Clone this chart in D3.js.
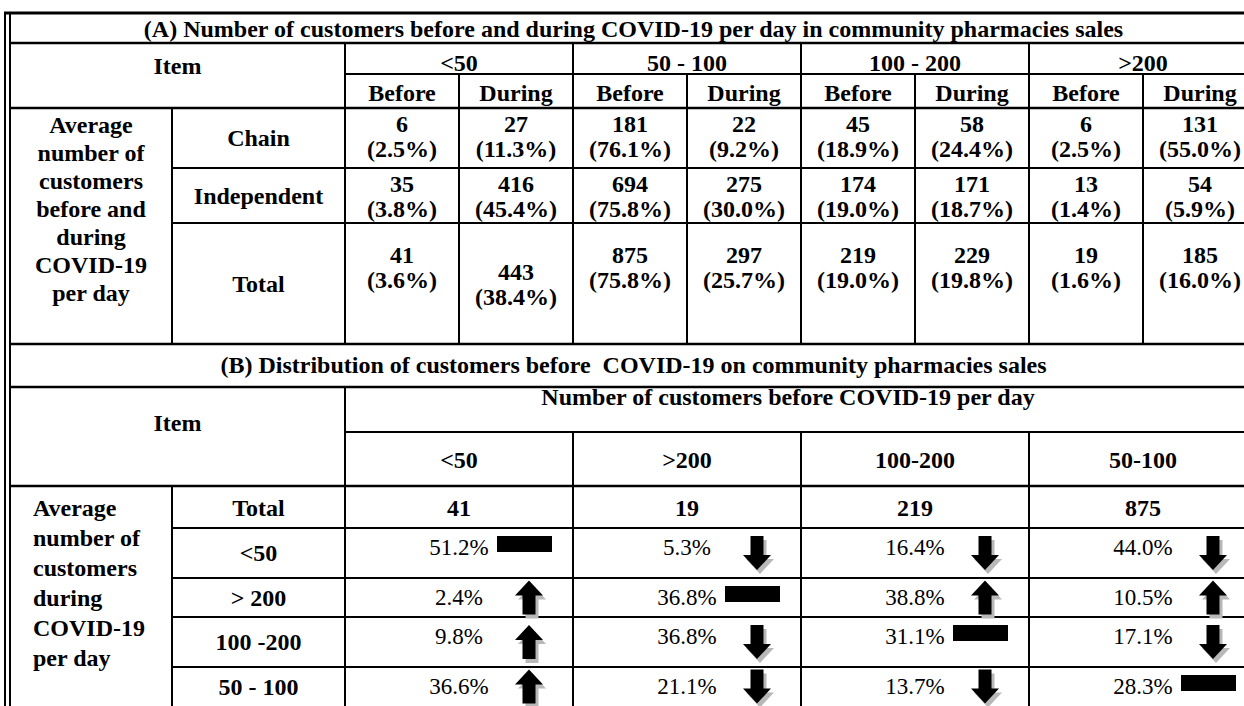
<!DOCTYPE html>
<html>
<head>
<meta charset="utf-8">
<script src="https://cdn.jsdelivr.net/npm/d3@7"></script>
<style>
  body { margin: 0; background: #fff; }
  svg text { fill: #000; white-space: pre; }
</style>
</head>
<body>
<svg id="chart" width="1244" height="706"></svg>
<script>

// part (A): counts before / during, per size group
var aTitle = '(A) Number of customers before and during COVID-19 per day in community pharmacies sales';
var aGroups = ['<50', '50 - 100', '100 - 200', '>200'];
var aPhases = ['Before', 'During'];
var aRows = ['Chain', 'Independent', 'Total'];
var aSideLabel = ['Average', 'number of', 'customers', 'before and', 'during', 'COVID-19', 'per day'];
var chainCounts = [6, 27, 181, 22, 45, 58, 6, 131];
var chainPct = [2.5, 11.3, 76.1, 9.2, 18.9, 24.4, 2.5, 55.0];
var indepCounts = [35, 416, 694, 275, 174, 171, 13, 54];
var indepPct = [3.8, 45.4, 75.8, 30.0, 19.0, 18.7, 1.4, 5.9];
var totalCounts = [41, 443, 875, 297, 219, 229, 19, 185];
var totalPct = [3.6, 38.4, 75.8, 25.7, 19.0, 19.8, 1.6, 16.0];

// part (B): where the customers of each "before" group went during COVID-19
var bTitle = '(B) Distribution of customers before  COVID-19 on community pharmacies sales';
var bHeader = 'Number of customers before COVID-19 per day';
var bCols = ['<50', '>200', '100-200', '50-100'];
var bTotals = [41, 19, 219, 875];
var bRows = ['<50', '> 200', '100 -200', '50 - 100'];
var bSideLabel = ['Average', 'number of', 'customers', 'during', 'COVID-19', 'per day'];
var bPct = [
  [51.2, 5.3, 16.4, 44.0],
  [2.4, 36.8, 38.8, 10.5],
  [9.8, 36.8, 31.1, 17.1],
  [36.6, 21.1, 13.7, 28.3]
];
var bTrend = [
  ['same', 'down', 'down', 'down'],
  ['up', 'same', 'up', 'up'],
  ['up', 'down', 'same', 'down'],
  ['up', 'down', 'down', 'same']
];

// ---- layout ----
var svg = d3.select('#chart');
var font = "'Liberation Serif', 'Times New Roman', Times, serif";
var fs = 24;
var left = 10, split = 172, dataL = 345, right = 1257;

// row edges
var yTop = 13, yA1 = 43, yA2 = 74, yA3 = 108;
var aRowEdges = [108, 168, 223, 344];
var yB0 = 387, yB1 = 432, yB2 = 486;
var bRowEdges = [528, 578, 617, 667, 706];

var subKeys = [];
aGroups.forEach(function(g) { aPhases.forEach(function(p) { subKeys.push(g + '|' + p); }); });

var xGroup = d3.scaleBand().domain(aGroups).range([dataL, right]);
var xSub = d3.scaleBand().domain(subKeys).range([dataL, right]);
var xB = d3.scaleBand().domain(bCols).range([dataL, right]);

var fmt = d3.format('.1f');

function txt(x, y, s, opts) {
  opts = opts || {};
  return svg.append('text')
    .attr('x', x).attr('y', y)
    .attr('text-anchor', opts.anchor || 'middle')
    .attr('font-family', font)
    .attr('font-size', opts.size || fs)
    .attr('font-weight', opts.bold === false ? 'normal' : 'bold')
    .text(s);
}

function hline(x1, x2, y, w) {
  svg.append('line').attr('x1', x1).attr('x2', x2).attr('y1', y).attr('y2', y)
    .attr('stroke', '#000').attr('stroke-width', w || 2);
}
function vline(x, y1, y2, w) {
  svg.append('line').attr('x1', x).attr('x2', x).attr('y1', y1).attr('y2', y2)
    .attr('stroke', '#000').attr('stroke-width', w || 2);
}

// ---- borders and grid ----
hline(4, 1244, yTop, 3);
vline(5, yTop - 1, 706, 2);
vline(10, yTop, 706, 2);

// part A grid
hline(left, right, yA1, 2.5);
hline(dataL, right, yA2, 2);
hline(left, right, yA3, 2.5);
hline(split, right, aRowEdges[1], 2);
hline(split, right, aRowEdges[2], 2);
hline(left, right, aRowEdges[3], 2.5);
vline(dataL, yA1, aRowEdges[3]);
vline(split, yA3, aRowEdges[3]);
aGroups.slice(1).forEach(function(g) { vline(xGroup(g), yA1, aRowEdges[3]); });
aGroups.forEach(function(g) { vline(xSub(g + '|During'), yA2, aRowEdges[3]); });

// part B grid
hline(left, right, yB0, 2.5);
hline(dataL, right, yB1, 2);
hline(left, right, yB2, 2.5);
bRowEdges.slice(0, 4).forEach(function(y) { hline(split, right, y, 2); });
vline(dataL, yB0, 706);
vline(split, yB2, 706);
bCols.slice(1).forEach(function(c) { vline(xB(c), yB1, 706); });

// ---- part A text ----
txt((left + right) / 2, 37, aTitle);
txt((left + dataL) / 2, 74, 'Item');
aGroups.forEach(function(g) { txt(xGroup(g) + xGroup.bandwidth() / 2, 71, g); });
subKeys.forEach(function(k) { txt(xSub(k) + xSub.bandwidth() / 2, 101, k.split('|')[1]); });

aSideLabel.forEach(function(s, i) { txt((left + split) / 2, 133 + 28 * i, s); });
aRows.forEach(function(r, i) {
  txt((split + dataL) / 2, (aRowEdges[i] + aRowEdges[i + 1]) / 2 + 8, r);
});

var aData = [
  { counts: chainCounts, pct: chainPct },
  { counts: indepCounts, pct: indepPct },
  { counts: totalCounts, pct: totalPct }
];
aData.forEach(function(row, r) {
  var top = aRowEdges[r];
  var base = r < 2 ? top + 24 : top + 40;
  row.counts.forEach(function(v, j) {
    var cx = xSub(subKeys[j]) + xSub.bandwidth() / 2;
    // the "443" cell sits half a line lower in the source
    var shift = (r === 2 && j === 1) ? 17 : 0;
    txt(cx, base + shift, String(v));
    txt(cx, base + 25 + shift, '(' + fmt(row.pct[j]) + '%)');
  });
});

// ---- part B text ----
txt((left + right) / 2, 373, bTitle);
txt((left + dataL) / 2, 431, 'Item');
txt(788, 405, bHeader);
bCols.forEach(function(c) { txt(xB(c) + xB.bandwidth() / 2, 468, c); });

txt((split + dataL) / 2, 516, 'Total');
bTotals.forEach(function(v, j) { txt(xB(bCols[j]) + xB.bandwidth() / 2, 516, String(v)); });

bSideLabel.forEach(function(s, i) { txt(33, 516 + 30 * i, s, { anchor: 'start' }); });

// arrow shape, centred on (0,0)
function arrowPath(dir) {
  var h = 34, hw = 14, sw = 6.5, hh = 15;
  var up = [[0, -h / 2], [hw, -h / 2 + hh], [sw, -h / 2 + hh], [sw, h / 2],
            [-sw, h / 2], [-sw, -h / 2 + hh], [-hw, -h / 2 + hh]];
  var pts = dir === 'up' ? up : up.map(function(p) { return [p[0], -p[1]]; });
  return d3.line()(pts) + 'Z';
}

bRows.forEach(function(r, i) {
  var top = bRowEdges[i], bottom = bRowEdges[i + 1];
  var base = top + 27;
  var mid = (top + bottom) / 2;
  txt((split + dataL) / 2, mid + 8, r);
  bPct[i].forEach(function(v, j) {
    var cx = xB(bCols[j]) + xB.bandwidth() / 2;
    txt(cx, base, fmt(v) + '%', { bold: false, size: 23 });
    var t = bTrend[i][j];
    if (t === 'same') {
      svg.append('rect')
        .attr('x', cx + 38).attr('y', base - 19)
        .attr('width', 55).attr('height', 16)
        .attr('fill', '#000');
    } else {
      var g = svg.append('g').attr('transform', 'translate(' + (cx + 70) + ',' + mid + ')');
      g.append('path').attr('d', arrowPath(t)).attr('fill', '#b8b8b8')
        .attr('transform', 'translate(3,4)');
      g.append('path').attr('d', arrowPath(t)).attr('fill', '#000');
    }
  });
});
</script>
</body>
</html>
